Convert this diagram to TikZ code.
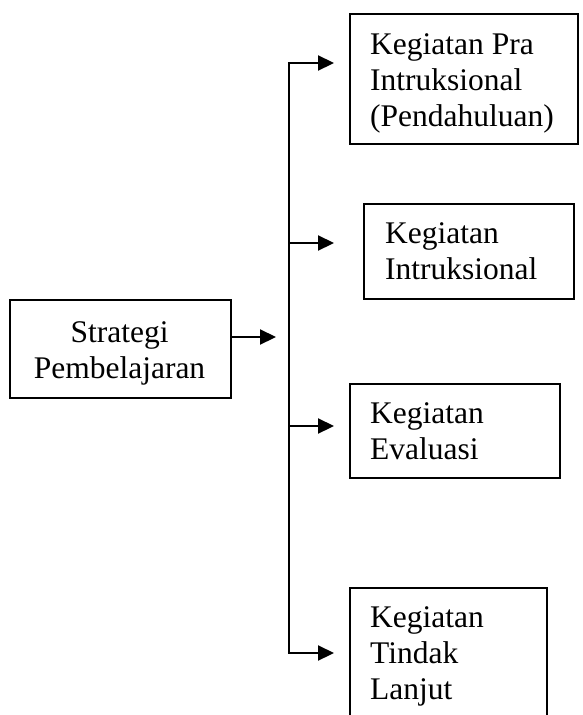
\documentclass[tikz,border=0pt]{standalone}
\usepackage{fontspec}
\setmainfont{Liberation Serif}
\usetikzlibrary{arrows.meta}
\tikzset{
  box/.style={draw, line width=1.8pt, inner sep=0pt, anchor=north west},
  txt/.style={inner sep=0pt, font=\fontsize{31.5}{36}\selectfont},
  conn/.style={line width=2.2pt},
  arr/.style={conn, -{Triangle[length=16pt,width=15pt]}}
}
\begin{document}
\begin{tikzpicture}[x=1pt,y=-1pt]
\useasboundingbox (0,0) rectangle (583,715);
\clip (0,0) rectangle (583,715);
% boxes
\node[box, minimum width=221pt, minimum height=98pt] (s) at (9,299) {};
\node[box, minimum width=228pt, minimum height=130pt] (a) at (349,13) {};
\node[box, minimum width=210pt, minimum height=95pt] (b) at (363,203) {};
\node[box, minimum width=210pt, minimum height=94pt] (c) at (349,383) {};
\node[box, minimum width=197pt, minimum height=150pt] (d) at (349,587) {};
% texts
\node[txt, anchor=base] (st) at (119.5,342) {\begin{tabular}[t]{@{}c@{}}Strategi\\Pembelajaran\end{tabular}};
\node[txt, anchor=base west] (at) at (370,54) {\begin{tabular}[t]{@{}l@{}}Kegiatan Pra\\Intruksional\\(Pendahuluan)\end{tabular}};
\node[txt, anchor=base west] (bt) at (385,243) {\begin{tabular}[t]{@{}l@{}}Kegiatan\\Intruksional\end{tabular}};
\node[txt, anchor=base west] (ct) at (370,423) {\begin{tabular}[t]{@{}l@{}}Kegiatan\\Evaluasi\end{tabular}};
\node[txt, anchor=base west] (dt) at (370,627) {\begin{tabular}[t]{@{}l@{}}Kegiatan\\Tindak\\Lanjut\end{tabular}};
% connector points
\coordinate (j) at (276,337);
\coordinate (top) at (289,63);
\coordinate (bot) at (289,653);
\coordinate (mb) at (289,243);
\coordinate (mc) at (289,426);
\coordinate (ta) at (334,63);
\coordinate (tb) at (334,243);
\coordinate (tc) at (334,426);
\coordinate (td) at (334,653);
% connectors
\draw[arr] (s.east |- j) -- (j);
\draw[conn] (top) -- (bot);
\draw[arr] ([xshift=-1.1pt]top) -- (ta);
\draw[arr] (mb) -- (tb);
\draw[arr] (mc) -- (tc);
\draw[arr] ([xshift=-1.1pt]bot) -- (td);
\end{tikzpicture}
\end{document}
